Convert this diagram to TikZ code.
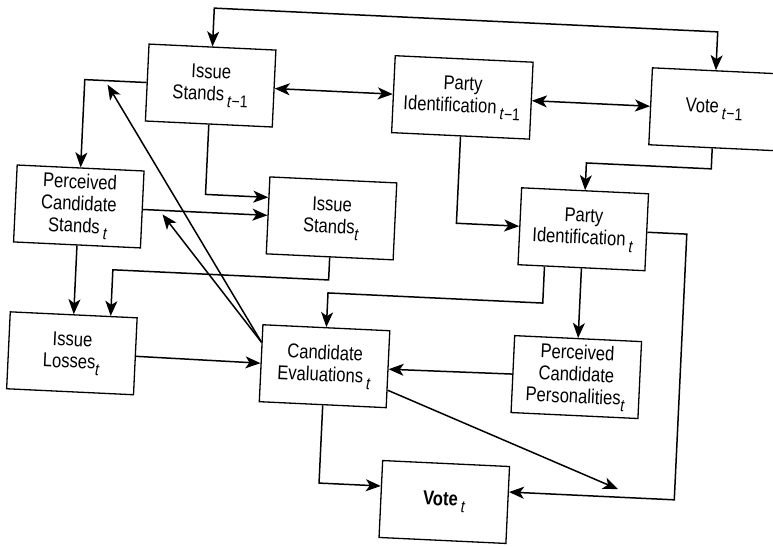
\documentclass[tikz,border=0pt]{standalone}
\usepackage{fontspec}
\setmainfont{Liberation Sans}[FakeStretch=0.83]
\usetikzlibrary{arrows.meta,calc}
\newcommand{\lsub}[1]{\raisebox{-6pt}{\fontsize{17}{17}\selectfont #1}}
\newcommand{\ti}{\textit{t}}
\begin{document}
\begin{tikzpicture}[x=1pt,y=-1pt,
  box/.style={draw, line width=1.3pt, fill=white, minimum width=127pt, minimum height=77pt,
    align=center, inner sep=4pt, font=\fontsize{20}{22}\selectfont},
  conn/.style={line width=1.5pt},
  >={Stealth[length=15pt,width=12pt,inset=4pt]}]
\useasboundingbox (0,0) rectangle (773,546);
\fill[white] (0,0) rectangle (773,546);
\clip (0,0) rectangle (773,546);
\begin{scope}[transform canvas={rotate around={-2.7:(386,273)}}]
% nodes
\node[box] (IS1) at (202,94) {Issue\\Stands\,\lsub{\ti−1}};
\node[box, minimum width=138pt] (PI1) at (454,94) {Party\\Identification\,\lsub{\ti−1}};
\node[box] (V1) at (706,94) {Vote\,\lsub{\ti−1}};
\node[box] (PCS) at (76,221) {Perceived\\Candidate\\Stands\,\lsub{\ti}};
\node[box] (IS) at (329,221) {Issue\\Stands\lsub{\ti}};
\node[box] (PI) at (581,220) {Party\\Identification\,\lsub{\ti}};
\node[box] (IL) at (76,368) {Issue\\Losses\lsub{\ti}};
\node[box] (CE) at (329,369) {Candidate\\Evaluations\,\lsub{\ti}};
\node[box] (PCP) at (581,368) {Perceived\\Candidate\\Personalities\lsub{\ti}};
\node[box] (VT) at (455,499) {\textbf{Vote}\,\lsub{\ti}};
% helper coordinates
\coordinate (topY) at (0,16.5);
\coordinate (ceo) at ($(CE.west)+(0,-21)$);
\coordinate (tipA) at (99,98);
\coordinate (tipB) at (160,225);
\coordinate (tipC) at (628,478);
% connectors
\draw[conn,<->] (IS1.north) -- (IS1.north |- topY) -| (V1.north);
\draw[conn,<->] (IS1.east) -- (PI1.west);
\draw[conn,<->] (PI1.east) -- (V1.west);
\draw[conn,->] (IS1.west) -| (PCS.north);
\draw[conn,->] (IS1.south) |- ($(IS.west)+(0,-18)$);
\draw[conn,->] (PCS.east) -- (IS.west);
\draw[conn,->] (PCS.south) -- (IL.north);
\draw[conn,->] (IS.south) -- ++(0,22.5) -| ($(IL.north)+(37,0)$);
\draw[conn,->] (IL.east) -- (CE.west);
\draw[conn,->] (ceo) -- (tipA);
\draw[conn,->] (ceo) -- (tipB);
\draw[conn,->] (PI1.south) |- (PI.west);
\draw[conn,->] (V1.south) -- ++(0,20.5) -| (PI.north);
\draw[conn,->] ($(PI.south)+(-37,0)$) -- ++(0,36.5) -| (CE.north);
\draw[conn,->] (PI.south) -- (PCP.north);
\draw[conn,->] (PI.east) -- ++(39.5,0) |- ($(VT.east)+(0,-13)$);
\draw[conn,->] (PCP.west) -- (CE.east);
\draw[conn,->] ($(CE.east)+(0,21)$) -- (tipC);
\draw[conn,->] (CE.south) |- ($(VT.west)+(0,-13)$);
\end{scope}
\end{tikzpicture}
\end{document}
